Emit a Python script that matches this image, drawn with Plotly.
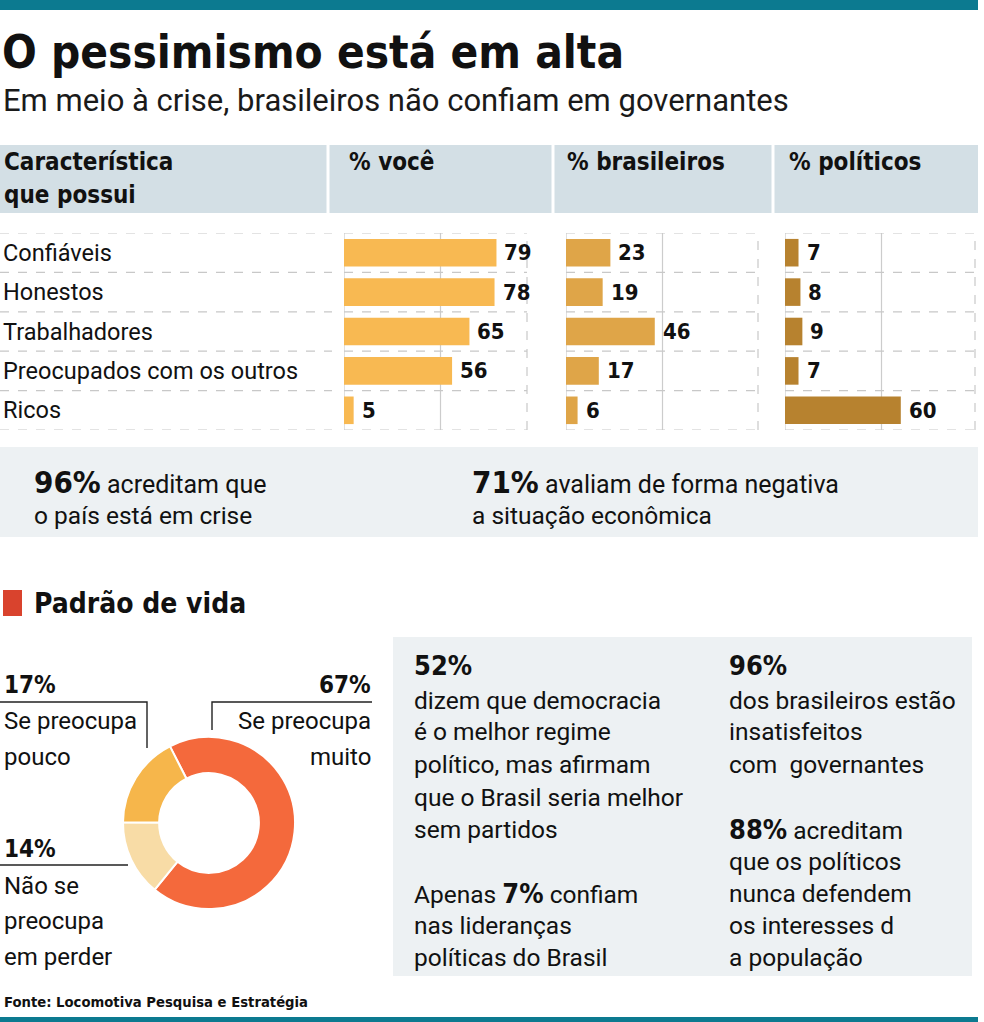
import plotly.graph_objects as go

W, H = 984, 1022

# ---------------- data ----------------
categories = ["Confiáveis", "Honestos", "Trabalhadores", "Preocupados com os outros", "Ricos"]
voce = [79, 78, 65, 56, 5]
brasileiros = [23, 19, 46, 17, 6]
politicos = [7, 8, 9, 7, 60]
panel_titles = ["% você", "% brasileiros", "% políticos"]

donut_labels = ["Se preocupa muito", "Não se preocupa em perder", "Se preocupa pouco"]
donut_values = [67, 14, 17]

# ---------------- styling ----------------
BODY = "Roboto, Liberation Sans, sans-serif"
BOLD = "DejaVu Sans Condensed, Roboto, sans-serif"
bar_colors = ["#f8b952", "#dfa548", "#b7822f"]
donut_colors = ["#f4693c", "#f8dca6", "#f6b64b"]
TEAL = "#0c7a90"
PANEL_BG = "#edf1f3"
HEAD_BG = "#d3dfe5"


def px(x):
    return x / W


def py(y):
    return 1 - y / H


fig = go.Figure()

panel_px = [(344, 527), (566, 758), (785, 975)]
PX_PER_UNIT = 1.93
series = [voce, brasileiros, politicos]
y_top, y_bot = 233, 430

axis_names = ["", "2", "3"]
for i, (vals, (x0, x1)) in enumerate(zip(series, panel_px)):
    xa = "x" + axis_names[i]
    ya = "y" + axis_names[i]
    fig.add_trace(go.Bar(
        x=vals, y=categories, orientation="h",
        marker=dict(color=bar_colors[i], line=dict(width=0)),
        width=0.7, xaxis=xa, yaxis=ya, showlegend=False, hoverinfo="skip",
    ))
    rng = (x1 - x0) / PX_PER_UNIT
    fig.layout["xaxis" + axis_names[i]] = dict(
        domain=[px(x0), px(x1)], range=[0, rng], showgrid=False, zeroline=False,
        showticklabels=False, fixedrange=True, anchor=ya,
    )
    fig.layout["yaxis" + axis_names[i]] = dict(
        domain=[py(y_bot), py(y_top)], categoryorder="array", categoryarray=categories,
        showgrid=False, zeroline=False, showticklabels=False,
        fixedrange=True, anchor=xa, range=[len(categories) - 0.5, -0.5],
    )
    fig.add_shape(type="line", xref=xa, yref=ya + " domain", x0=0, x1=0, y0=0, y1=1,
                  line=dict(color="#cccccc", width=1.2), layer="below")
    fig.add_shape(type="line", xref=xa, yref=ya + " domain", x0=50, x1=50, y0=0, y1=1,
                  line=dict(color="#cccccc", width=1.2), layer="below")
    fig.add_shape(type="line", xref=xa + " domain", yref=ya + " domain", x0=1, x1=1, y0=0, y1=1,
                  line=dict(color="#c8c8c8", width=1.2, dash="dash"), layer="below")
    for k in range(len(categories) + 1):
        fig.add_shape(type="line", xref=xa + " domain", yref=ya, x0=0, x1=1,
                      y0=k - 0.5, y1=k - 0.5,
                      line=dict(color="#c8c8c8", width=1.2, dash="dash"), layer="below")
    for c, v in zip(categories, vals):
        fig.add_annotation(x=v, y=c, xref=xa, yref=ya, text=f"<b>{v}</b>",
                           showarrow=False, xanchor="left", yanchor="middle", xshift=6,
                           font=dict(family=BOLD, size=22, color="#111111"))

for k in range(len(categories) + 1):
    fig.add_shape(type="line", xref="paper", yref="y", x0=0, x1=px(332),
                  y0=k - 0.5, y1=k - 0.5,
                  line=dict(color="#c8c8c8", width=1.2, dash="dash"), layer="below")
for c in categories:
    fig.add_annotation(x=px(1), y=c, xref="paper", yref="y", text=c, showarrow=False,
                       xanchor="left", yanchor="middle",
                       font=dict(family=BODY, size=23.5, color="#111111"))

# ---------------- donut ----------------
cx, cy, R = 209, 823, 86
fig.add_trace(go.Pie(
    values=donut_values, labels=donut_labels, hole=0.58, sort=False,
    direction="clockwise", rotation=-27, textinfo="none", hoverinfo="skip",
    marker=dict(colors=donut_colors, line=dict(color="white", width=2)),
    domain=dict(x=[px(cx - R), px(cx + R)], y=[py(cy + R), py(cy - R)]),
    showlegend=False,
))

# ---------------- decorative shapes ----------------
shapes = [
    dict(type="rect", xref="paper", yref="paper", x0=0, x1=px(978), y0=py(10), y1=1,
         fillcolor=TEAL, line=dict(width=0)),
    dict(type="rect", xref="paper", yref="paper", x0=0, x1=px(978), y0=py(213), y1=py(145),
         fillcolor=HEAD_BG, line=dict(width=0)),
    dict(type="rect", xref="paper", yref="paper", x0=0, x1=px(978), y0=py(537), y1=py(447),
         fillcolor=PANEL_BG, line=dict(width=0)),
    dict(type="rect", xref="paper", yref="paper", x0=px(393), x1=px(972), y0=py(976), y1=py(637),
         fillcolor=PANEL_BG, line=dict(width=0)),
    dict(type="rect", xref="paper", yref="paper", x0=px(3), x1=px(22), y0=py(616), y1=py(590),
         fillcolor="#d9432d", line=dict(width=0)),
    dict(type="rect", xref="paper", yref="paper", x0=0, x1=px(978), y0=0, y1=py(1017),
         fillcolor=TEAL, line=dict(width=0)),
]
for s in shapes:
    s["layer"] = "below"
    fig.add_shape(**s)
for xs in [328, 553, 773]:
    fig.add_shape(type="line", xref="paper", yref="paper", x0=px(xs), x1=px(xs),
                  y0=py(213), y1=py(145), line=dict(color="white", width=3))

leader = dict(color="#222222", width=1.4)
fig.add_shape(type="path", xref="paper", yref="paper",
              path=f"M {px(0)},{py(702)} L {px(147)},{py(702)} L {px(147)},{py(748)}", line=leader)
fig.add_shape(type="path", xref="paper", yref="paper",
              path=f"M {px(372)},{py(702)} L {px(212)},{py(702)} L {px(212)},{py(730)}", line=leader)
fig.add_shape(type="line", xref="paper", yref="paper", x0=0, x1=px(128), y0=py(865), y1=py(865),
              line=leader)


def txt(x, y, text, size, bold=False, anchor="left", family=BODY, color="#111111"):
    t = f"<b>{text}</b>" if bold else text
    fig.add_annotation(x=px(x), y=py(y), xref="paper", yref="paper", text=t, showarrow=False,
                       xanchor=anchor, yanchor="middle", font=dict(family=family, size=size, color=color))


def b(text, size):
    return f"<span style='font-family:{BOLD};font-size:{size}px'><b>{text}</b></span>"


txt(0, 53, "O pessimismo está em alta", 45.5, bold=True, family=BOLD)
txt(1, 100, "Em meio à crise, brasileiros não confiam em governantes", 31, color="#1a1a1a")

txt(2, 162, "Característica", 24, bold=True, family=BOLD)
txt(2, 195, "que possui", 24, bold=True, family=BOLD)
for t, x in zip(panel_titles, [347, 565, 787]):
    txt(x, 162, t, 24, bold=True, family=BOLD)

txt(32, 482, b("96%", 31) + " acreditam que", 25)
txt(32, 515, "o país está em crise", 24.5)
txt(470, 482, b("71%", 31) + " avaliam de forma negativa", 25)
txt(470, 515, "a situação econômica", 24.5)

txt(32, 603, "Padrão de vida", 28, bold=True, family=BOLD)

txt(2, 685, "17%", 24, bold=True, family=BOLD)
txt(2, 721, "Se preocupa", 24)
txt(2, 757, "pouco", 24)
txt(373, 685, "67%", 24, bold=True, family=BOLD, anchor="right")
txt(373, 721, "Se preocupa", 24, anchor="right")
txt(373, 757, "muito", 24, anchor="right")
txt(2, 849, "14%", 24, bold=True, family=BOLD)
txt(2, 886, "Não se", 24)
txt(2, 921, "preocupa", 24)
txt(2, 957, "em perder", 24)

left_lines = [
    (665, b("52%", 27)),
    (700, "dizem que democracia"),
    (731, "é o melhor regime"),
    (764, "político, mas afirmam"),
    (797, "que o Brasil seria melhor"),
    (829, "sem partidos"),
    (893, "Apenas " + b("7%", 27) + " confiam"),
    (925, "nas lideranças"),
    (957, "políticas do Brasil"),
]
right_lines = [
    (665, b("96%", 27)),
    (700, "dos brasileiros estão"),
    (731, "insatisfeitos"),
    (764, "com  governantes"),
    (829, b("88%", 27) + " acreditam"),
    (861, "que os políticos"),
    (893, "nunca defendem"),
    (925, "os interesses d"),
    (957, "a população"),
]
for y, t in left_lines:
    txt(412, y, t, 24.5)
for y, t in right_lines:
    txt(727, y, t, 24.5)

txt(2, 1001, "Fonte: Locomotiva Pesquisa e Estratégia", 14.7, bold=True, family=BOLD)

fig.update_layout(
    width=W, height=H, margin=dict(l=0, r=0, t=0, b=0),
    paper_bgcolor="white", plot_bgcolor="rgba(0,0,0,0)",
    bargap=0.3,
)

fig.write_html("out.html", config={"displayModeBar": False},
               post_script="document.body.style.margin='0';")
